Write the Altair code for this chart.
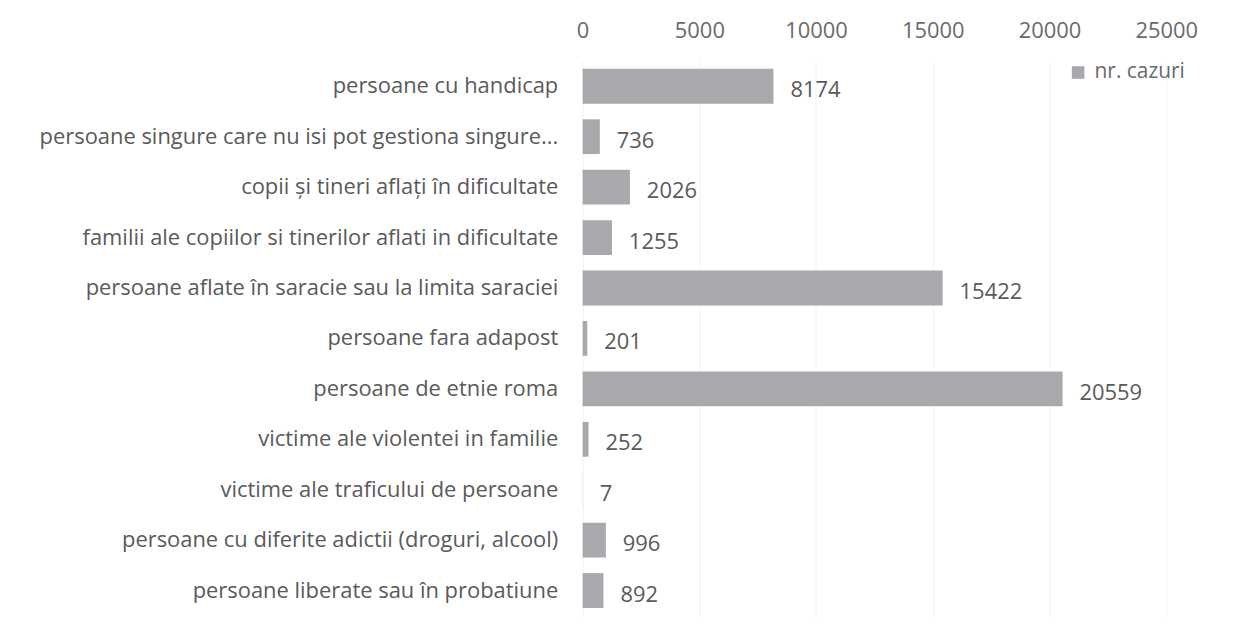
import altair as alt
import pandas as pd

categories = [
    "persoane cu handicap",
    "persoane singure care nu isi pot gestiona singure...",
    "copii și tineri aflați în dificultate",
    "familii ale copiilor si tinerilor aflati in dificultate",
    "persoane aflate în saracie sau la limita saraciei",
    "persoane fara adapost",
    "persoane de etnie roma",
    "victime ale violentei in familie",
    "victime ale traficului de persoane",
    "persoane cu diferite adictii (droguri, alcool)",
    "persoane liberate sau în probatiune",
]
values = [8174, 736, 2026, 1255, 15422, 201, 20559, 252, 7, 996, 892]
series = ["nr. cazuri"] * len(categories)
x_ticks = [0, 5000, 10000, 15000, 20000, 25000]

df = pd.DataFrame({"cat": categories, "val": values, "series": series})

FONT = "Open Sans"
FS = 22
TXT = "#5a5a5a"
TICK = "#6a6a6a"

y_enc = alt.Y(
    "cat:N",
    sort=categories,
    scale=alt.Scale(paddingInner=0.31, paddingOuter=0.155),
    axis=alt.Axis(
        title=None, domain=False, ticks=False, labelPadding=25, grid=False,
        labelLimit=700, labelFontSize=FS, labelColor=TXT, labelFont=FONT,
    ),
)
x_enc = alt.X(
    "val:Q",
    scale=alt.Scale(domain=[0, 25000], nice=False),
    axis=alt.Axis(
        title=None, orient="top", values=x_ticks, domain=False, ticks=False,
        labelPadding=19, labelFontSize=FS, labelColor=TICK, labelFont=FONT,
        labelFlush=False, labelOverlap=False,
        grid=True, gridColor="#f2f2f2", format="d",
    ),
)

bars = alt.Chart(df).mark_bar().encode(
    y=y_enc,
    x=x_enc,
    color=alt.Color(
        "series:N",
        scale=alt.Scale(range=["#a9a9ad"]),
        legend=alt.Legend(
            title=None, orient="none", legendX=487, legendY=1,
            symbolType="square", symbolSize=160, symbolStrokeWidth=0,
            labelFontSize=FS - 1, labelColor=TICK, labelFont=FONT, labelOffset=6,
        ),
    ),
)

labels = alt.Chart(df).mark_text(
    align="left", baseline="middle", dx=17, dy=4,
    fontSize=FS, font=FONT, color=TXT,
).encode(
    y=y_enc,
    x=x_enc,
    text="val:Q",
)

chart = (
    (bars + labels)
    .properties(
        width=586, height=557,
        background="white",
        autosize=alt.AutoSizeParams(type="none"),
        padding={"left": 577, "top": 52, "right": 60, "bottom": 10},
    )
    .configure_view(stroke="transparent", strokeWidth=0)
    .configure_axis(domain=False, ticks=False)
)

chart.save("out.html", embed_options={"renderer": "svg", "actions": False})
